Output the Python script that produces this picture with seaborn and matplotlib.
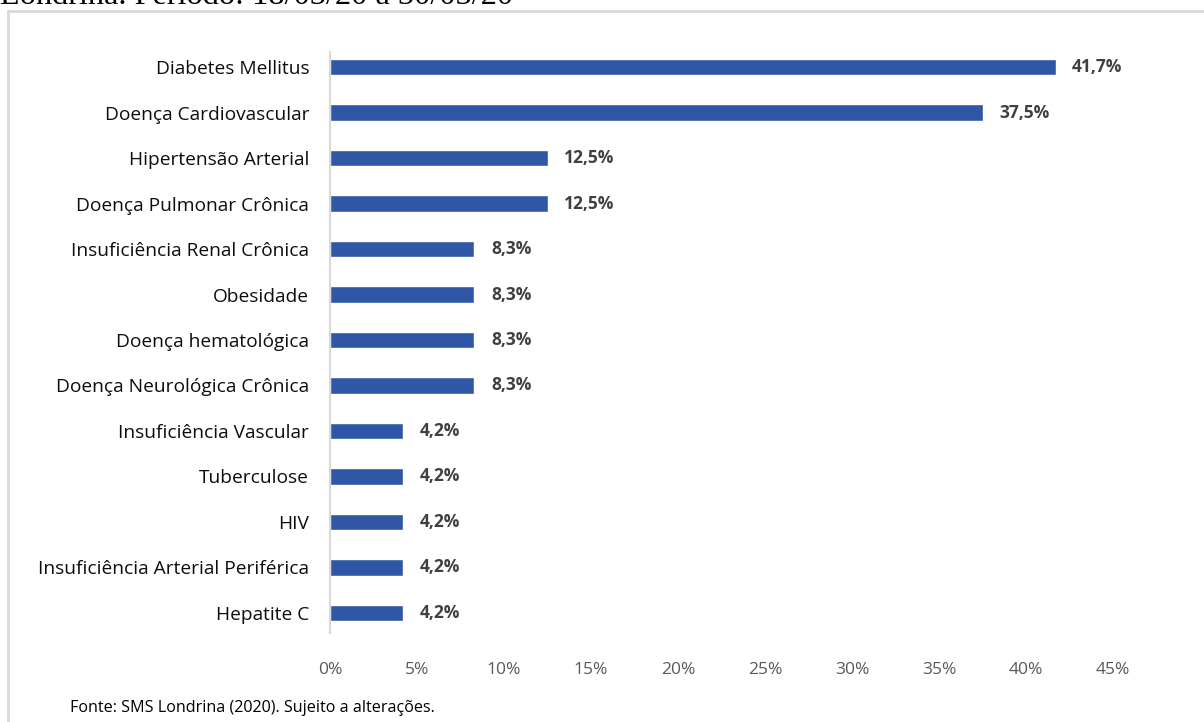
import matplotlib
matplotlib.use("Agg")
import matplotlib.pyplot as plt
from matplotlib.lines import Line2D
import seaborn as sns
import pandas as pd

# Comorbidities among confirmed cases (percent of cases)
categories = [
    "Diabetes Mellitus",
    "Doença Cardiovascular",
    "Hipertensão Arterial",
    "Doença Pulmonar Crônica",
    "Insuficiência Renal Crônica",
    "Obesidade",
    "Doença hematológica",
    "Doença Neurológica Crônica",
    "Insuficiência Vascular",
    "Tuberculose",
    "HIV",
    "Insuficiência Arterial Periférica",
    "Hepatite C",
]
percentages = [41.7, 37.5, 12.5, 12.5, 8.3, 8.3, 8.3, 8.3, 4.2, 4.2, 4.2, 4.2, 4.2]
x_ticks = [0, 5, 10, 15, 20, 25, 30, 35, 40, 45]

sns.set_theme(style="white")
plt.rcParams["font.family"] = ["Open Sans", "DejaVu Sans"]

df = pd.DataFrame({"categoria": categories, "pct": percentages})

fig = plt.figure(figsize=(12.04, 7.22), dpi=100)
ax = fig.add_axes([330 / 1204, 1 - 633 / 722, (1113 - 330) / 1204, (633 - 52) / 722])

sns.barplot(data=df, x="pct", y="categoria", orient="h", color="#3057A5",
            saturation=1, width=0.37, ax=ax)

ax.bar_label(ax.containers[0],
             labels=[f"{v:.1f}".replace(".", ",") + "%" for v in percentages],
             padding=12, fontsize=12.5, fontweight="bold", color="#404040")

ax.set_xlim(0, 45)
ax.set_ylim(len(categories) - 1 + 0.44, -0.33)
ax.set_xticks(x_ticks)
ax.set_xticklabels([f"{t}%" for t in x_ticks], fontsize=12.5, color="#595959")
ax.tick_params(axis="x", length=0, pad=21)
ax.tick_params(axis="y", length=0, pad=15, labelsize=13.8, labelcolor="#0d0d0d")
ax.set_xlabel("")
ax.set_ylabel("")
for side in ["top", "right", "bottom"]:
    ax.spines[side].set_visible(False)
ax.spines["left"].set_color("#d9d9d9")
ax.spines["left"].set_linewidth(1.5)

# Frame around the chart area
frame_x = 8 / 1204
frame_y = 1 - 11 / 722
fig.add_artist(Line2D([frame_x, 1.01], [frame_y, frame_y], color="#d9d9d9", lw=2,
                      transform=fig.transFigure))
fig.add_artist(Line2D([frame_x, frame_x], [frame_y, -0.01], color="#d9d9d9", lw=2,
                      transform=fig.transFigure))

# Caption line above the frame
fig.text(0.0, 1 - 4 / 722, "Londrina. Período: 18/03/20 a 30/03/20",
         fontsize=23.3, family=["Liberation Serif", "DejaVu Serif"], color="black",
         va="baseline", ha="left")

# Source note
fig.text(70 / 1204, 1 - 708 / 722, "Fonte: SMS Londrina (2020). Sujeito a alterações.",
         fontsize=11.6, color="black", va="center", ha="left")

fig.savefig("out.png", dpi=100)
